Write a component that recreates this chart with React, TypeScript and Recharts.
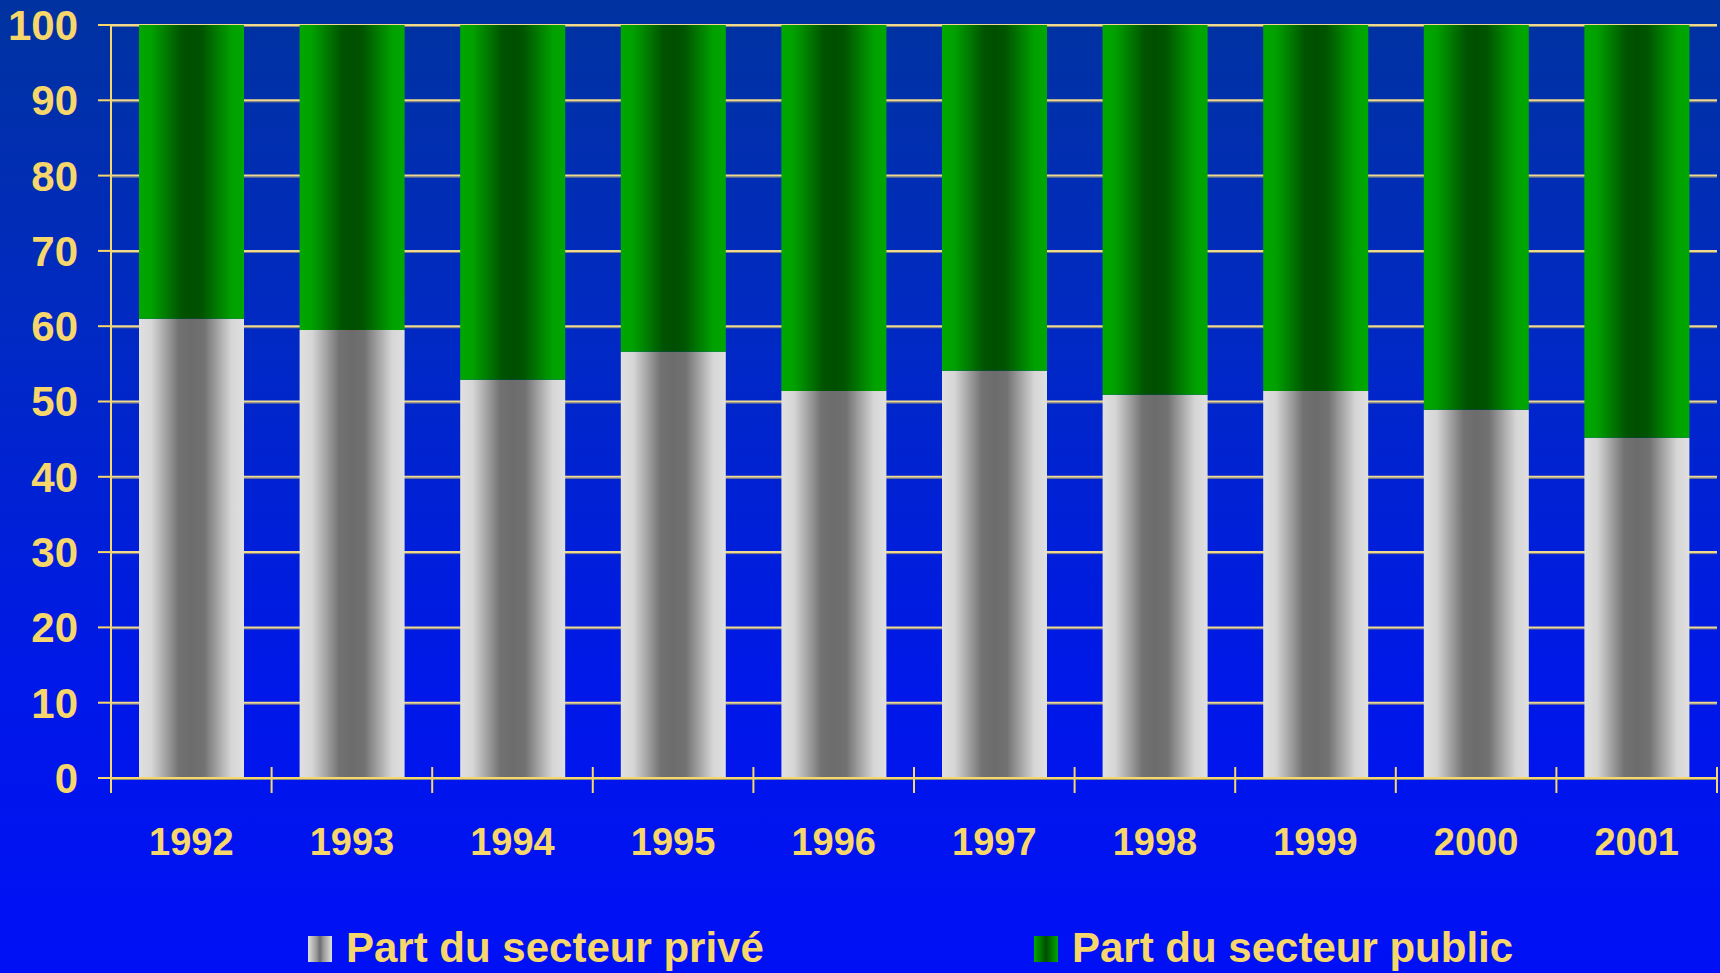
import { BarChart, Bar, XAxis, YAxis, CartesianGrid } from 'recharts';

const years = ['1992', '1993', '1994', '1995', '1996', '1997', '1998', '1999', '2000', '2001'];
const privateShare = [61.0, 59.5, 52.9, 56.6, 51.4, 54.1, 50.9, 51.4, 48.9, 45.2];
const publicShare = [39.0, 40.5, 47.1, 43.4, 48.6, 45.9, 49.1, 48.6, 51.1, 54.8];
const yTicks = [0, 10, 20, 30, 40, 50, 60, 70, 80, 90, 100];

const YELLOW = '#F7D76B';
const GRID = '#EFD98E';
const FONT = '"Liberation Sans", Arial, sans-serif';

const chartData = years.map((year, i) => ({
  year,
  prive: privateShare[i],
  public: publicShare[i],
}));

function YearTick(props: any) {
  const { x, y, payload, index } = props;
  const half = payload?.offset ?? 80.3;
  const left = x - half;
  return (
    <g>
      <line x1={left} x2={left} y1={y - 11} y2={y + 15} stroke={YELLOW} strokeWidth={2} />
      {index === years.length - 1 && (
        <line x1={x + half} x2={x + half} y1={y - 11} y2={y + 15} stroke={YELLOW} strokeWidth={2} />
      )}
      <text
        x={x}
        y={y + 77}
        textAnchor="middle"
        fill={YELLOW}
        fontSize={38}
        fontWeight="bold"
        fontFamily={FONT}
      >
        {payload.value}
      </text>
    </g>
  );
}

function GridLine(props: any) {
  const { x1, x2, y1, y2 } = props;
  return (
    <g key={`g-${y1}`}>
      <line x1={x1} x2={x2} y1={y1 + 1.5} y2={y2 + 1.5} stroke="#8A8A7A" strokeWidth={1} />
      <line x1={x1} x2={x2} y1={y1} y2={y2} stroke={GRID} strokeWidth={2} />
    </g>
  );
}

function LegendItem({ left, swatch, label }: { left: number; swatch: string; label: string }) {
  return (
    <div style={{ position: 'absolute', left, top: 927, height: 42 }}>
      <div style={{ position: 'absolute', left: 0, top: 9, width: 24, height: 26, background: swatch }} />
      <div
        style={{
          position: 'absolute',
          left: 38,
          top: 0,
          whiteSpace: 'nowrap',
          fontFamily: FONT,
          fontWeight: 'bold',
          fontSize: 42,
          lineHeight: '42px',
          color: YELLOW,
        }}
      >
        {label}
      </div>
    </div>
  );
}

const GRAY_SWATCH = 'linear-gradient(90deg, #E0E0E0 0%, #9A9A9A 35%, #6C6C6C 50%, #9A9A9A 65%, #E0E0E0 100%)';
const GREEN_SWATCH = 'linear-gradient(90deg, #00A800 0%, #006A00 35%, #004E00 50%, #006A00 65%, #00A800 100%)';

export default function App() {
  return (
    <div
      style={{
        position: 'absolute',
        left: 0,
        top: 0,
        width: 1720,
        height: 973,
        background: 'linear-gradient(180deg, #0032A0 0%, #0029C4 35%, #0018E8 70%, #0010F6 100%)',
        overflow: 'hidden',
      }}
    >
      <BarChart
        width={1720}
        height={973}
        data={chartData}
        margin={{ top: 25, right: 3, left: 0, bottom: 0 }}
        barSize={105}
      >
        <defs>
          <linearGradient id="grayBar" x1="0" y1="0" x2="1" y2="0">
            <stop offset="0%" stopColor="#E0E0E0" />
            <stop offset="12%" stopColor="#D6D6D6" />
            <stop offset="38%" stopColor="#727272" />
            <stop offset="50%" stopColor="#6C6C6C" />
            <stop offset="62%" stopColor="#727272" />
            <stop offset="88%" stopColor="#D6D6D6" />
            <stop offset="100%" stopColor="#E0E0E0" />
          </linearGradient>
          <linearGradient id="greenBar" x1="0" y1="0" x2="1" y2="0">
            <stop offset="0%" stopColor="#00A800" />
            <stop offset="12%" stopColor="#00A000" />
            <stop offset="40%" stopColor="#005400" />
            <stop offset="50%" stopColor="#004E00" />
            <stop offset="60%" stopColor="#005400" />
            <stop offset="88%" stopColor="#00A000" />
            <stop offset="100%" stopColor="#00A800" />
          </linearGradient>
        </defs>
        <CartesianGrid vertical={false} horizontal={GridLine} />
        <XAxis
          dataKey="year"
          height={195}
          axisLine={{ stroke: YELLOW, strokeWidth: 2 }}
          tickLine={false}
          tickSize={0}
          tickMargin={0}
          interval={0}
          tick={YearTick}
        />
        <YAxis
          width={111}
          domain={[0, 100]}
          ticks={yTicks}
          interval={0}
          axisLine={{ stroke: YELLOW, strokeWidth: 2 }}
          tickLine={{ stroke: YELLOW, strokeWidth: 2 }}
          tickSize={13}
          tickMargin={20}
          tick={{ fill: YELLOW, fontSize: 42, fontWeight: 'bold', fontFamily: FONT }}
        />
        <Bar dataKey="prive" stackId="a" fill="url(#grayBar)" isAnimationActive={false} />
        <Bar dataKey="public" stackId="a" fill="url(#greenBar)" isAnimationActive={false} />
      </BarChart>
      <LegendItem left={308} swatch={GRAY_SWATCH} label="Part du secteur privé" />
      <LegendItem left={1034} swatch={GREEN_SWATCH} label="Part du secteur public" />
    </div>
  );
}
